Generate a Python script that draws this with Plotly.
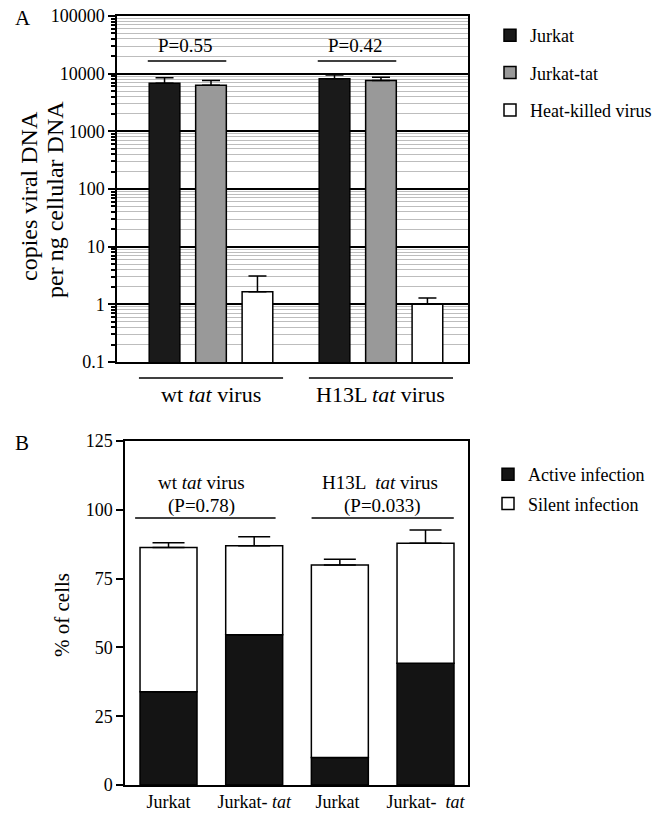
import plotly.graph_objects as go

# ---------- Panel A data ----------
groupsA = ["wt", "H13L"]
jurkat = [6800, 8200]
jurkat_err = [1700, 1300]
jurkat_tat = [6300, 7600]
jurkat_tat_err = [1300, 1100]
heat_killed = [1.66, 1.0]
heat_killed_err = [1.44, 0.29]
decade_vals = [0.1, 1, 10, 100, 1000, 10000, 100000]
decade_text = ["0.1", "1", "10", "100", "1000", "10000", "100000"]
pvalsA = ["P=0.55", "P=0.42"]
group_labelsA = ["wt <i>tat</i> virus", "H13L <i>tat</i> virus"]

# ---------- Panel B data ----------
catsB = ["Jurkat", "Jurkat- <i>tat</i>", "Jurkat ", "Jurkat-  <i>tat</i>"]
active = [33.9, 54.6, 10.0, 44.2]
active_err = [4.5, 5.6, 3.1, 6.9]
silent = [52.4, 32.3, 69.9, 43.6]
silent_err = [1.7, 3.3, 2.1, 4.9]
yticksB = [0, 25, 50, 75, 100, 125]

FONT = "Liberation Serif, Times New Roman, serif"
W, H = 671, 813

def px_x(p):
    return p / W

def px_y(p):
    return 1 - p / H

fig = go.Figure()

err_style = dict(type="data", symmetric=False, color="black", thickness=1.5)

fig.add_trace(go.Bar(x=groupsA, y=jurkat, name="Jurkat", marker=dict(color="#1a1a1a", line=dict(color="black", width=1.5)),
                     error_y=dict(array=jurkat_err, arrayminus=[0]*2, width=9, **err_style),
                     xaxis="x", yaxis="y", legend="legend", legendgroup="a1", offsetgroup="a1"))
fig.add_trace(go.Bar(x=groupsA, y=jurkat_tat, name="Jurkat-tat", marker=dict(color="#999999", line=dict(color="black", width=1.5)),
                     error_y=dict(array=jurkat_tat_err, arrayminus=[0]*2, width=9, **err_style),
                     xaxis="x", yaxis="y", legend="legend", legendgroup="a2", offsetgroup="a2"))
fig.add_trace(go.Bar(x=groupsA, y=heat_killed, name="Heat-killed virus", marker=dict(color="white", line=dict(color="black", width=1.5)),
                     error_y=dict(array=heat_killed_err, arrayminus=[0]*2, width=9, **err_style),
                     xaxis="x", yaxis="y", legend="legend", legendgroup="a3", offsetgroup="a3"))

fig.add_trace(go.Bar(x=catsB, y=active, name="Active infection", width=0.665,
                     marker=dict(color="#141414", line=dict(color="black", width=1.5)),
                     error_y=dict(array=active_err, arrayminus=[0]*4, width=16, **err_style),
                     xaxis="x2", yaxis="y2", legend="legend2", legendgroup="b1", offsetgroup="b"))
fig.add_trace(go.Bar(x=catsB, y=silent, base=active, name="Silent infection", width=0.665,
                     marker=dict(color="white", line=dict(color="black", width=1.5)),
                     error_y=dict(array=silent_err, arrayminus=[0]*4, width=16, **err_style),
                     xaxis="x2", yaxis="y2", legend="legend2", legendgroup="b2", offsetgroup="b"))

minor_vals = [m * d for d in decade_vals[:-1] for m in range(2, 10)]

tickfont = dict(family=FONT, size=18, color="black")
axis_common = dict(showline=True, linecolor="black", linewidth=1.5, mirror=True, automargin=False)

fig.update_layout(
    width=W, height=H,
    margin=dict(l=0, r=0, t=0, b=0),
    paper_bgcolor="white", plot_bgcolor="white",
    font=dict(family=FONT, color="black"),
    barmode="group",
    bargap=0.18, bargroupgap=0.34,
    xaxis=dict(domain=[px_x(117), px_x(468)], anchor="y", range=[-0.553, 1.512],
               showticklabels=False, ticks="", **axis_common),
    yaxis=dict(domain=[px_y(362), px_y(16)], anchor="x", type="log", range=[-1, 5],
               tickmode="array", tickvals=decade_vals, ticktext=decade_text, tickfont=tickfont,
               ticks="outside", ticklen=7, tickwidth=1.5, tickcolor="black",
               showgrid=True, gridcolor="black", gridwidth=1.5,
               minor=dict(tickmode="array", tickvals=minor_vals, ticks="outside", ticklen=4,
                          tickcolor="black", showgrid=True, gridcolor="#bdbdbd", gridwidth=1.3),
               layer="below traces", **axis_common),
    xaxis2=dict(domain=[px_x(125), px_x(468)], anchor="y2", range=[-0.508, 3.496],
                ticks="", tickfont=tickfont, **axis_common),
    yaxis2=dict(domain=[px_y(785), px_y(441)], anchor="x2", range=[0, 125],
                tickmode="array", tickvals=yticksB, ticks="outside", ticklen=7, tickwidth=1.5,
                tickcolor="black", showgrid=False, tickfont=tickfont, **axis_common),
    legend=dict(x=px_x(490), y=px_y(17), xanchor="left", yanchor="top",
                font=dict(family=FONT, size=18, color="black"), traceorder="grouped",
                tracegroupgap=11, bgcolor="rgba(0,0,0,0)"),
    legend2=dict(x=px_x(488), y=px_y(456), xanchor="left", yanchor="top",
                 font=dict(family=FONT, size=18, color="black"), traceorder="grouped",
                 tracegroupgap=3, bgcolor="rgba(0,0,0,0)"),
)

def ann(x, y, text, xref="paper", yref="paper", size=18, **kw):
    d = dict(x=x, y=y, xref=xref, yref=yref, text=text, showarrow=False,
             xanchor="center", yanchor="middle", font=dict(family=FONT, size=size, color="black"))
    d.update(kw)
    return d

annotations = []
shapes = []
# Panel A p-values and brackets
for gi, pv in enumerate(pvalsA):
    annotations.append(ann(gi - 0.15, px_y(45), pv, xref="x", size=19))
    shapes.append(dict(type="line", xref="x", yref="paper", x0=gi - 0.372, x1=gi + 0.09,
                       y0=px_y(61), y1=px_y(61), line=dict(color="black", width=1.5)))
# Panel A group labels below axis
for gi, lab in enumerate(group_labelsA):
    annotations.append(ann(gi, px_y(394), lab, xref="x", size=22))
    shapes.append(dict(type="line", xref="x", yref="paper", x0=gi - 0.424, x1=gi + 0.424,
                       y0=px_y(378), y1=px_y(378), line=dict(color="black", width=1.5)))
# Panel B group labels
b_groups = [("wt <i>tat</i> virus", "(P=0.78)", 0.38, 0.39, -0.39, 1.25),
            ("H13L  <i>tat</i> virus", "(P=0.033)", 2.47, 2.5, 1.67, 3.33)]
for t1, t2, cx1, cx2, x0, x1 in b_groups:
    annotations.append(ann(cx1, 110, t1, xref="x2", yref="y2", size=19))
    annotations.append(ann(cx2, 101.5, t2, xref="x2", yref="y2", size=19))
    shapes.append(dict(type="line", xref="x2", yref="y2", x0=x0, x1=x1, y0=97, y1=97,
                       line=dict(color="black", width=1.5)))

# Panel letters and y titles
annotations.append(ann(px_x(23), px_y(18), "A", size=21))
annotations.append(ann(px_x(22), px_y(443), "B", size=21))
annotations.append(ann(px_x(29), px_y(196), "copies viral DNA", size=24, textangle=-90))
annotations.append(ann(px_x(55), px_y(199), "per ng cellular DNA", size=24, textangle=-90))
annotations.append(ann(px_x(62), px_y(615), "% of cells", size=21, textangle=-90))

fig.update_layout(annotations=annotations, shapes=shapes)

fig.write_html("out.html", config={"displayModeBar": False},
               post_script="document.body.style.margin='0';document.body.style.overflow='hidden';")
